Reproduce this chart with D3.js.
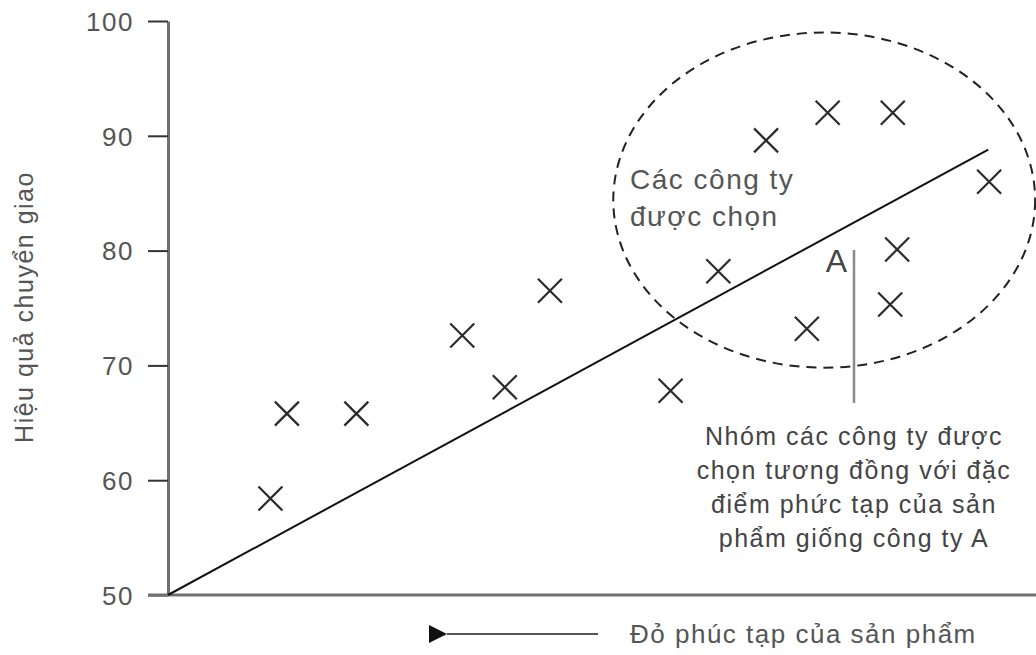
<!DOCTYPE html>
<html>
<head>
<meta charset="utf-8">
<script src="https://cdn.jsdelivr.net/npm/d3@7.9.0/dist/d3.min.js"></script>
<style>
  html, body { margin: 0; padding: 0; background: #fff; }
  svg { display: block; font-family: "Liberation Sans", Arial, sans-serif; }
  .lbl { fill: #555; letter-spacing: 1.5px; }
</style>
</head>
<body>
<svg id="chart" width="1036" height="655"></svg>
<script>
// complexity (x, arbitrary 0-100) and transfer efficiency (y)
const companyX = [11.8, 13.7, 21.7, 33.9, 38.8, 44.0, 57.9, 63.4, 68.9, 76.0, 83.5, 73.6, 83.2, 84.0, 94.6];
const companyY = [58.4, 65.8, 65.8, 72.6, 68.1, 76.5, 67.8, 78.2, 89.6, 92.0, 92.0, 73.2, 75.3, 80.1, 86.0];
const trendX = [0, 94.5];
const trendY = [50, 88.8];
const yTicks = [50, 60, 70, 80, 90, 100];
const groupCenter = [75.6, 84.4];
const groupRadius = [24.3, 14.6];
const companyA = [77.0, 78.1];

const yTitle = 'Hiệu quả chuyển giao';
const xTitle = 'Đỏ phúc tạp của sản phẩm';
const groupLabel = ['Các công ty', 'được chọn'];
const noteLines = ['Nhóm các công ty được', 'chọn tương đồng với đặc', 'điểm phức tạp của sản', 'phẩm giống công ty A'];

const svg = d3.select('#chart');
const x = d3.scaleLinear().domain([0, 100]).range([168, 1036]);
const y = d3.scaleLinear().domain([50, 100]).range([595, 21]);

// axes
const yAxis = svg.append('g').attr('transform', `translate(${x(0)},0)`)
  .call(d3.axisLeft(y).tickValues(yTicks).tickSize(20).tickPadding(14).tickSizeOuter(0));
yAxis.select('.domain').attr('stroke', '#707070').attr('stroke-width', 3);
yAxis.selectAll('.tick line').attr('stroke', '#333').attr('stroke-width', 2);
yAxis.selectAll('.tick text').attr('class', 'lbl').attr('font-size', 26).attr('dy', '0.36em');

svg.append('line')
  .attr('x1', x(0) - 20).attr('x2', x(100))
  .attr('y1', y(50)).attr('y2', y(50))
  .attr('stroke', '#707070').attr('stroke-width', 3);

// trend line
svg.append('path')
  .datum(d3.zip(trendX, trendY))
  .attr('d', d3.line().x(d => x(d[0])).y(d => y(d[1])))
  .attr('fill', 'none').attr('stroke', '#111').attr('stroke-width', 2);

// selected group ellipse
svg.append('ellipse')
  .attr('cx', x(groupCenter[0])).attr('cy', y(groupCenter[1]))
  .attr('rx', x(groupRadius[0]) - x(0)).attr('ry', y(50) - y(50 + groupRadius[1]))
  .attr('fill', 'none').attr('stroke', '#222').attr('stroke-width', 2)
  .attr('stroke-dasharray', '10 7');

// company markers
const s = 12;
svg.append('g').selectAll('path')
  .data(d3.zip(companyX, companyY))
  .join('path')
    .attr('d', d => {
      const cx = x(d[0]), cy = y(d[1]);
      return `M${cx - s},${cy - s}L${cx + s},${cy + s}M${cx - s},${cy + s}L${cx + s},${cy - s}`;
    })
    .attr('stroke', '#2a2a2a').attr('stroke-width', 2.2).attr('fill', 'none');

// company A and its note
svg.append('text').attr('class', 'lbl')
  .attr('x', x(companyA[0])).attr('y', y(companyA[1]))
  .attr('text-anchor', 'middle').attr('font-size', 32)
  .style('fill', '#444').style('letter-spacing', '0px').text('A');

svg.append('line')
  .attr('x1', 854).attr('x2', 854).attr('y1', 250).attr('y2', 403)
  .attr('stroke', '#8a8a8a').attr('stroke-width', 2.5);

svg.append('text').attr('class', 'lbl')
  .attr('font-size', 25).attr('text-anchor', 'middle').style('fill', '#444')
  .selectAll('tspan').data(noteLines).join('tspan')
    .attr('x', 854).attr('y', (d, i) => 445 + i * 34).text(d => d);

svg.append('text').attr('class', 'lbl')
  .attr('font-size', 28)
  .selectAll('tspan').data(groupLabel).join('tspan')
    .attr('x', 630).attr('y', (d, i) => 189 + i * 37).text(d => d);

// axis titles
svg.append('text').attr('class', 'lbl')
  .attr('transform', 'translate(33,307) rotate(-90)')
  .attr('text-anchor', 'middle').attr('font-size', 25)
  .text(yTitle);

svg.append('text').attr('class', 'lbl')
  .attr('x', 630).attr('y', 643).attr('font-size', 26)
  .text(xTitle);

svg.append('defs').append('marker')
  .attr('id', 'head').attr('viewBox', '0 0 10 10')
  .attr('refX', 0).attr('refY', 5)
  .attr('markerWidth', 22).attr('markerHeight', 18)
  .attr('markerUnits', 'userSpaceOnUse').attr('orient', 'auto')
  .append('path').attr('d', 'M10,0L0,5L10,10Z').attr('fill', '#111');

svg.append('line')
  .attr('x1', 598).attr('x2', 447).attr('y1', 634).attr('y2', 634)
  .attr('stroke', '#555').attr('stroke-width', 2)
  .attr('marker-end', 'url(#head)');
</script>
</body>
</html>
